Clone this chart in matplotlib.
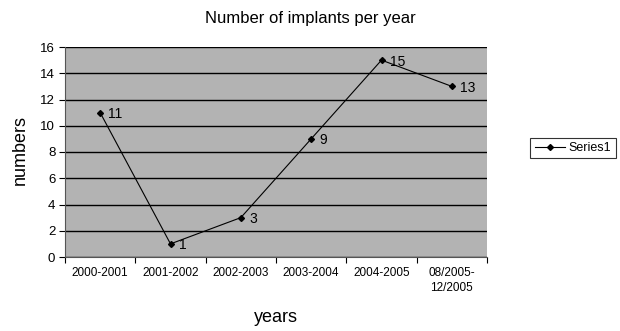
import matplotlib
matplotlib.use("Agg")
import matplotlib.pyplot as plt

plt.rcParams['font.family'] = ['Liberation Sans', 'DejaVu Sans']

categories = ["2000-2001", "2001-2002", "2002-2003", "2003-2004", "2004-2005", "08/2005-\n12/2005"]
values = [11, 1, 3, 9, 15, 13]
yticks = [0, 2, 4, 6, 8, 10, 12, 14, 16]

fig = plt.figure(figsize=(6.2, 3.31), dpi=100)
ax = fig.add_axes([65/620, 1-257/331, (487-65)/620, (257-47)/331])
ax.set_facecolor('#b3b3b3')
x = list(range(len(categories)))
ax.plot(x, values, color='black', lw=0.8, marker='D', ms=3, label='Series1')
for xi, v in zip(x, values):
    ax.annotate(str(v), (xi, v), xytext=(6, -1), textcoords='offset points',
                fontsize=10, va='center', ha='left')
ax.set_xlim(-0.5, len(categories)-0.5)
ax.set_ylim(0, 16)
ax.set_yticks(yticks)
ax.set_xticks([i - 0.5 for i in range(len(categories)+1)])
ax.set_xticklabels([])
ax.set_xticks(x, minor=True)
ax.set_xticklabels(categories, minor=True, fontsize=8.5)
ax.tick_params(axis='x', which='minor', length=0, pad=7)
ax.tick_params(axis='x', which='major', length=4, direction='out')
ax.tick_params(axis='y', labelsize=9.5, length=4, direction='out', pad=3)
for t in ax.get_xticklabels(minor=True):
    t.set_linespacing(1.4)
ax.yaxis.grid(True, color='black', lw=1.0)
ax.set_axisbelow(True)
for s in ['top', 'right']:
    ax.spines[s].set_visible(False)
ax.spines['left'].set_color('#555555')
ax.spines['bottom'].set_color('#555555')
fig.text(0.5, 1-18/331, "Number of implants per year", ha='center', va='center', fontsize=12)
fig.text(20/620, 1-150/331, "numbers", rotation=90, ha='center', va='center', fontsize=13)
fig.text(276/620, 1-318/331, "years", ha='center', va='center', fontsize=13)
leg = fig.legend(loc='center', bbox_to_anchor=(573/620, 1-148/331), fontsize=9,
                 frameon=True, fancybox=False, edgecolor='black', handlelength=2.4,
                 borderpad=0.35, handletextpad=0.3)
leg.get_frame().set_linewidth(0.8)
fig.savefig("out.png", dpi=100)
